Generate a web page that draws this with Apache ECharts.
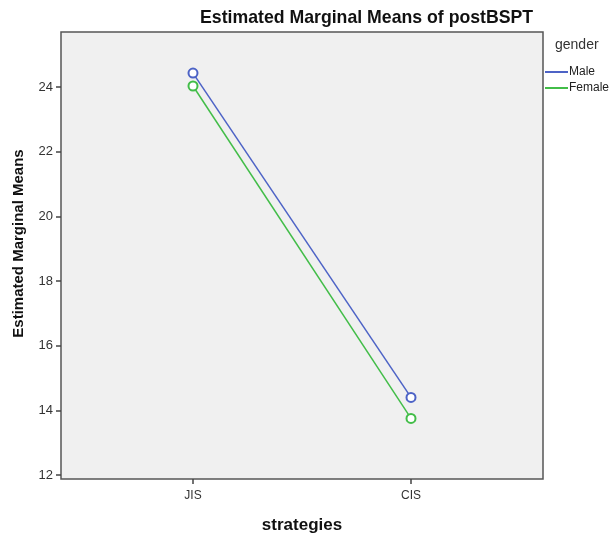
<!DOCTYPE html>
<html>
<head>
<meta charset="utf-8">
<script src="https://cdn.jsdelivr.net/npm/echarts@6/dist/echarts.min.js"></script>
<style>
html,body{margin:0;padding:0;background:#fff;}
#chart{width:613px;height:536px;}
</style>
</head>
<body>
<div id="chart"></div>
<script>
var categories = ['JIS', 'CIS'];
var maleValues = [24.43, 14.40];
var femaleValues = [24.03, 13.75];
var yTickValues = [12, 14, 16, 18, 20, 22, 24];
var seriesNames = ['Male', 'Female'];

function toPairs(vals) {
  return vals.map(function (v, i) { return [i + 1, v]; });
}
var xPositions = categories.map(function (c, i) { return i + 1; });

var font = 'Liberation Sans, Arial, sans-serif';
var chart = echarts.init(document.getElementById('chart'));
chart.setOption({
  animation: false,
  backgroundColor: '#ffffff',
  textStyle: { fontFamily: font },
  title: {
    text: 'Estimated Marginal Means of postBSPT',
    left: 195,
    top: 4,
    textStyle: { fontFamily: font, fontSize: 17.7, fontWeight: 'bold', color: '#111' }
  },
  graphic: [{
    type: 'text',
    left: 555,
    top: 38,
    style: { text: 'gender', font: '14px Liberation Sans, Arial, sans-serif', fill: '#333' }
  }],
  legend: {
    orient: 'vertical',
    left: 545,
    top: 66,
    itemWidth: 23,
    itemHeight: 2,
    itemGap: 4,
    icon: 'rect',
    padding: 0,
    textStyle: { fontFamily: font, fontSize: 12, color: '#222', padding: [0, 0, 0, -4] },
    data: seriesNames
  },
  grid: {
    left: 61,
    right: 70,
    top: 32,
    bottom: 57,
    outerBoundsMode: 'none',
    containLabel: false,
    show: true,
    backgroundColor: '#f0f0f0',
    borderColor: '#555',
    borderWidth: 1.5
  },
  xAxis: {
    type: 'value',
    min: 0.3945,
    max: 2.6055,
    name: 'strategies',
    nameLocation: 'middle',
    nameGap: 38,
    nameTextStyle: { fontFamily: font, fontSize: 17, fontWeight: 'bold', color: '#111' },
    axisLine: { show: false },
    splitLine: { show: false },
    axisTick: { show: true, customValues: xPositions, length: 5, lineStyle: { color: '#444', width: 1.5 } },
    axisLabel: {
      customValues: xPositions,
      fontSize: 12, color: '#333', margin: 11,
      formatter: function (v) { return categories[Math.round(v) - 1] || ''; }
    }
  },
  yAxis: {
    type: 'value',
    min: 11.876,
    max: 25.70,
    name: 'Estimated Marginal Means',
    nameLocation: 'middle',
    nameGap: 35,
    nameTextStyle: { fontFamily: font, fontSize: 15, fontWeight: 'bold', color: '#111', padding: [0, 0, 0, 24] },
    axisLine: { show: false },
    splitLine: { show: false },
    axisTick: { show: true, customValues: yTickValues, length: 5, lineStyle: { color: '#444', width: 1.5 } },
    axisLabel: { customValues: yTickValues, fontSize: 13, color: '#333', margin: 8 }
  },
  series: [{
    name: seriesNames[0],
    type: 'line',
    data: toPairs(maleValues),
    symbol: 'emptyCircle',
    symbolSize: 9,
    color: '#4d63c6',
    lineStyle: { width: 1.5, color: '#4d63c6' },
    itemStyle: { color: '#4d63c6', borderWidth: 1.5 }
  }, {
    name: seriesNames[1],
    type: 'line',
    data: toPairs(femaleValues),
    symbol: 'emptyCircle',
    symbolSize: 9,
    color: '#42bd48',
    lineStyle: { width: 1.5, color: '#42bd48' },
    itemStyle: { color: '#42bd48', borderWidth: 1.5 }
  }]
});
</script>
</body>
</html>
